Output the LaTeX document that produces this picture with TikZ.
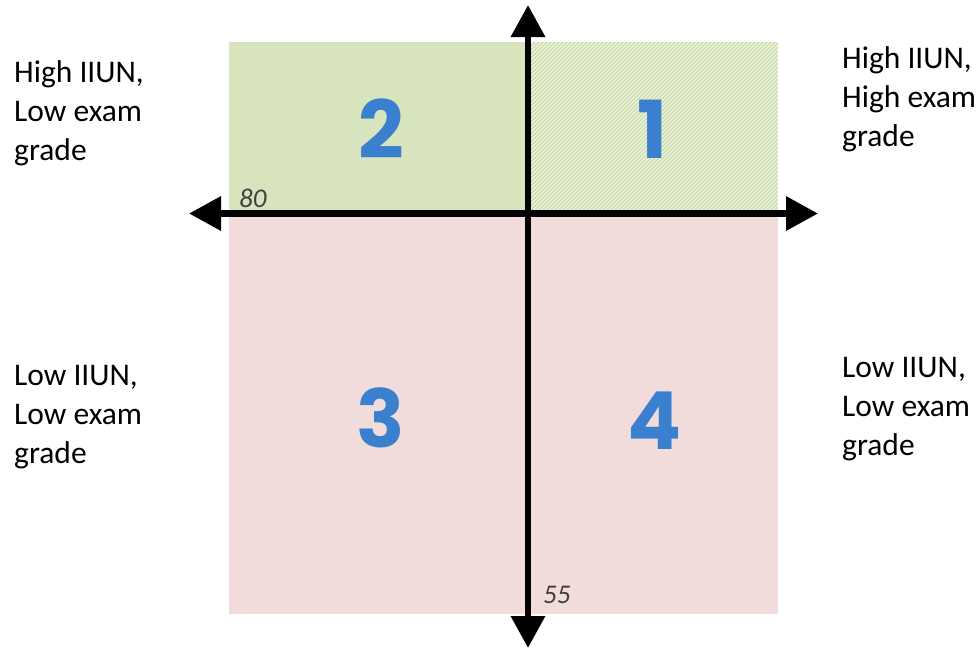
\documentclass[tikz,border=0pt]{standalone}
\usepackage{fontspec}
\setmainfont{Carlito}
\newfontfamily\numfont{Poppins}
\usetikzlibrary{arrows.meta}
\definecolor{qgreen}{HTML}{D7E4BD}
\definecolor{qhatch}{HTML}{C6DAA3}
\definecolor{qpink}{HTML}{F2DCDB}
\definecolor{qblue}{HTML}{3A80CE}
\definecolor{qgray}{HTML}{404040}
\tikzset{
  quadlabel/.style={anchor=base west, align=left, inner sep=0pt, font=\fontsize{31.5}{39}\selectfont},
  quadnum/.style={anchor=base, inner sep=0pt, text=qblue, font=\numfont\bfseries\fontsize{80}{80}\selectfont},
  cutval/.style={anchor=base west, inner sep=0pt, text=qgray, font=\itshape\fontsize{27}{27}\selectfont},
  axisline/.style={line width=6.5pt, -{Triangle[length=32pt,width=33pt]}},
  hatchline/.style={draw=white!75!qhatch, line width=1.3pt},
}
\begin{document}
\begin{tikzpicture}[x=1pt,y=-1pt]
\useasboundingbox (0,0) rectangle (977,649);
% quadrant fills
\fill[qgreen] (229,42) rectangle (528,213);
\fill[qhatch] (528,42) rectangle (778,213);
\begin{scope}
  \clip (528,42) rectangle (778,213);
  \foreach \k in {0,...,110} {
    \draw[hatchline] ({350+4*\k},213) -- ({350+4*\k+171},42);
  }
\end{scope}
\fill[qpink] (229,213) rectangle (778,614);
% axes
\coordinate (c) at (528,213.5);
\coordinate (xl) at (189,213.5);
\coordinate (xr) at (818,213.5);
\coordinate (yt) at (528,5);
\coordinate (yb) at (528,648);
\draw[axisline] (c) -- (xl);
\draw[axisline] (c) -- (xr);
\draw[axisline] (c) -- (yt);
\draw[axisline] (c) -- (yb);
% quadrant numbers
\node[quadnum] (n2) at (381,158) {2};
\node[quadnum] (n1) at (653,158) {1};
\node[quadnum] (n3) at (381,447) {3};
\node[quadnum] (n4) at (655,449) {4};
% cut values
\node[cutval] (v80) at (239,207) {80};
\node[cutval] (v55) at (543,603) {55};
% side labels (base = baseline of last line)
\node[quadlabel] (tl) at (14,160) {High IIUN,\\Low exam\\grade};
\node[quadlabel] (tr) at (842,146) {High IIUN,\\High exam\\grade};
\node[quadlabel] (bl) at (14,463) {Low IIUN,\\Low exam\\grade};
\node[quadlabel] (br) at (842,455) {Low IIUN,\\Low exam\\grade};
\end{tikzpicture}
\end{document}
